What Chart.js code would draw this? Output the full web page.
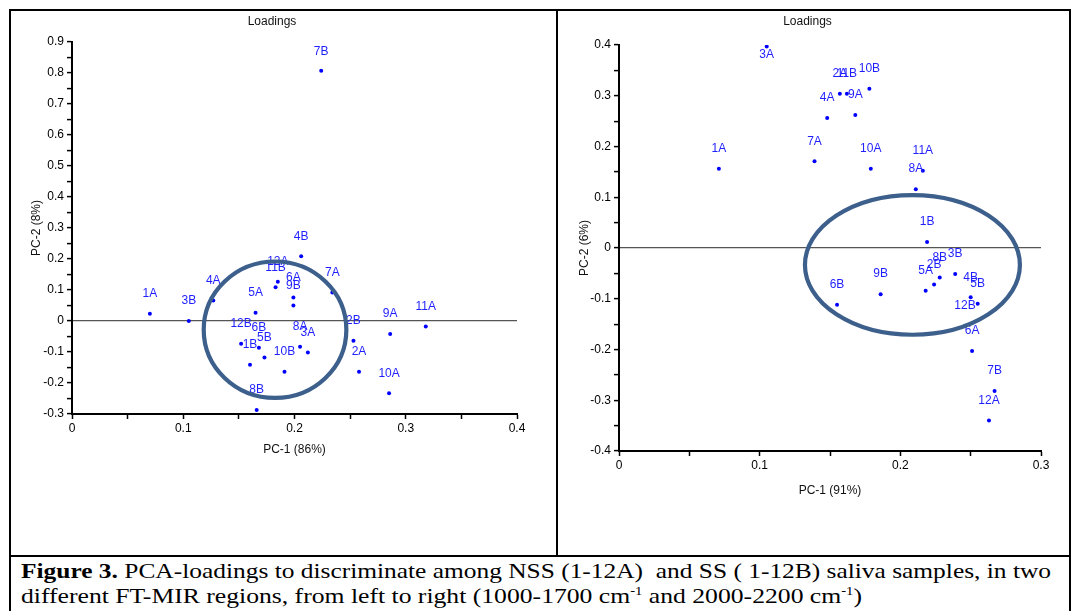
<!DOCTYPE html>
<html>
<head>
<meta charset="utf-8">
<script src="https://cdn.jsdelivr.net/npm/chart.js@4/dist/chart.umd.min.js"></script>
<style>
    body { margin: 0; background: #fff; }
    #page { position: relative; width: 1072px; height: 611px; overflow: hidden; }
    .line { position: absolute; background: #000; }
    canvas { position: absolute; }
    .caption {
        position: absolute; left: 21px; white-space: nowrap;
        font-family: "Liberation Serif", "Times New Roman", serif;
        font-size: 21px; line-height: 25px; color: #000;
        transform-origin: 0 50%;
    }
    #linea1 { top: 559px; }
    #linea2 { top: 584px; }
    .caption sup { font-size: 12px; line-height: 0; }
</style>
</head>
<body>
<div id="page">
    <div class="line" style="left:9px; top:9px; width:1062px; height:2px;"></div>
    <div class="line" style="left:9px; top:9px; width:2px; height:602px;"></div>
    <div class="line" style="left:1069px; top:9px; width:2px; height:602px;"></div>
    <div class="line" style="left:556px; top:9px; width:2px; height:547px;"></div>
    <div class="line" style="left:9px; top:555px; width:1062px; height:2px;"></div>

    <canvas id="izquierda" width="546" height="544" style="left:11px; top:11px;"></canvas>
    <canvas id="derecha" width="511" height="544" style="left:558px; top:11px;"></canvas>

    <div class="caption" id="linea1"><b>Figure 3.</b> PCA-loadings to discriminate among NSS (1-12A)&nbsp; and SS ( 1-12B) saliva samples, in two</div>
    <div class="caption" id="linea2">different FT-MIR regions, from left to right (1000-1700 cm<sup>-1</sup> and 2000-2200 cm<sup>-1</sup>)</div>
</div>

<script>

// =========================
// DATOS: 1000-1700 cm-1
// =========================

const muestrasIzq = [
    "1A", "2A", "3A", "4A", "5A", "6A", "7A", "8A", "9A", "10A", "11A", "12A",
    "1B", "2B", "3B", "4B", "5B", "6B", "7B", "8B", "9B", "10B", "11B", "12B"
];

const pc1Izq = [
    0.070, 0.258, 0.212, 0.127, 0.165, 0.199, 0.234, 0.205, 0.286, 0.285, 0.318, 0.185,
    0.160, 0.253, 0.105, 0.206, 0.173, 0.168, 0.224, 0.166, 0.199, 0.191, 0.183, 0.152
];

const pc2Izq = [
    0.023, -0.164, -0.102, 0.066, 0.027, 0.076, 0.092, -0.083, -0.042, -0.233, -0.018, 0.127,
    -0.141, -0.064, 0.000, 0.209, -0.118, -0.086, 0.807, -0.287, 0.050, -0.164, 0.109, -0.073
];

// =========================
// DATOS: 2000-2200 cm-1
// =========================

const muestrasDer = [
    "1A", "2A", "3A", "4A", "5A", "6A", "7A", "8A", "9A", "10A", "11A", "12A",
    "1B", "2B", "3B", "4B", "5B", "6B", "7B", "8B", "9B", "10B", "11B", "12B"
];

const pc1Der = [
    0.071, 0.157, 0.105, 0.148, 0.218, 0.251, 0.139, 0.211, 0.168, 0.179, 0.216, 0.263,
    0.219, 0.224, 0.239, 0.250, 0.255, 0.155, 0.267, 0.228, 0.186, 0.178, 0.162, 0.246
];

const pc2Der = [
    0.156, 0.304, 0.397, 0.256, -0.084, -0.203, 0.171, 0.116, 0.262, 0.156, 0.152, -0.340,
    0.012, -0.072, -0.051, -0.097, -0.110, -0.112, -0.282, -0.058, -0.091, 0.314, 0.304, -0.153
];

// círculos que agrupan las muestras (centro y radios en unidades de los ejes)
const circuloIzq = { cx: 0.1825, cy: -0.028, rx: 0.0641, ry: 0.220 };
const circuloDer = { cx: 0.2086, cy: -0.0333, rx: 0.0764, ry: 0.1376 };


// el pie de figura del original es más ancho que Liberation Serif
function ajustarAncho(id, ancho) {
    const el = document.getElementById(id);
    const w = el.getBoundingClientRect().width;
    el.style.transform = "scaleX(" + (ancho / w) + ")";
}
ajustarAncho("linea1", 1030);
ajustarAncho("linea2", 841);


const fuente = "'Liberation Sans', Arial, sans-serif";
Chart.defaults.font.family = fuente;
Chart.defaults.font.size = 12;
Chart.defaults.color = "#000";


// etiquetas de cada punto y círculo de agrupación
const etiquetasYCirculo = {

    id: "etiquetasYCirculo",

    afterDatasetsDraw(chart, args, opts) {

        const ctx = chart.ctx;
        const area = chart.chartArea;
        const meta = chart.getDatasetMeta(0);
        const nombres = chart.data.datasets[0].nombres;

        ctx.save();
        ctx.font = "12px " + fuente;
        ctx.fillStyle = "#1f1fff";
        ctx.textAlign = "center";
        ctx.textBaseline = "middle";

        meta.data.forEach((p, i) => {
            const y = Math.max(p.y - 20, area.top + 10);
            ctx.fillText(nombres[i], p.x, y);
        });

        const c = opts.circulo;
        const sx = chart.scales.x;
        const sy = chart.scales.y;
        const px = sx.getPixelForValue(c.cx);
        const py = sy.getPixelForValue(c.cy);
        const rx = Math.abs(sx.getPixelForValue(c.cx + c.rx) - px);
        const ry = Math.abs(sy.getPixelForValue(c.cy + c.ry) - py);

        ctx.beginPath();
        ctx.ellipse(px, py, rx, ry, 0, 0, Math.PI * 2);
        ctx.strokeStyle = "#3d5f8c";
        ctx.lineWidth = 4.2;
        ctx.stroke();
        ctx.restore();
    }
};


function etiquetaTick(value) {
    const d = value * 10;
    if (Math.abs(d - Math.round(d)) > 1e-6) return "";
    return String(Math.round(d) / 10);
}


function crearGrafico(id, nombres, pc1, pc2, ejes, circulo) {

    return new Chart(document.getElementById(id), {

        type: "scatter",

        data: {
            datasets: [{
                data: pc1.map((x, i) => ({ x: x, y: pc2[i] })),
                nombres: nombres,
                pointRadius: 2,
                pointHoverRadius: 2,
                pointBackgroundColor: "#0000ff",
                pointBorderWidth: 0
            }]
        },

        plugins: [etiquetasYCirculo],

        options: {

            responsive: false,
            animation: false,

            layout: {
                padding: ejes.padding
            },

            plugins: {
                legend: { display: false },
                tooltip: { enabled: false },
                title: {
                    display: true,
                    text: "Loadings",
                    color: "#111",
                    font: { size: 12, weight: "normal" },
                    padding: ejes.tituloPadding
                },
                etiquetasYCirculo: { circulo: circulo }
            },

            scales: {

                x: {
                    type: "linear",
                    min: ejes.xMin,
                    max: ejes.xMax,
                    afterFit: s => { s.height = ejes.altoX; },
                    ticks: {
                        stepSize: 0.05,
                        autoSkip: false,
                        maxRotation: 0,
                        padding: 2,
                        callback: etiquetaTick
                    },
                    grid: {
                        drawOnChartArea: false,
                        tickLength: 5,
                        tickColor: "#000",
                        tickWidth: 1.5
                    },
                    border: { color: "#000", width: 2 },
                    title: {
                        display: true,
                        text: ejes.tituloX,
                        color: "#111",
                        padding: { top: 4, bottom: 0 }
                    }
                },

                y: {
                    type: "linear",
                    min: ejes.yMin,
                    max: ejes.yMax,
                    afterFit: s => { s.width = 45; },
                    ticks: {
                        stepSize: 0.05,
                        autoSkip: false,
                        padding: 3,
                        callback: etiquetaTick
                    },
                    grid: {
                        drawOnChartArea: true,
                        color: c => Math.abs(c.tick.value) < 1e-9 ? "#555" : "rgba(0,0,0,0)",
                        lineWidth: 1.2,
                        tickLength: 5,
                        tickColor: "#000",
                        tickWidth: 1.5
                    },
                    border: { color: "#000", width: 2 },
                    title: {
                        display: true,
                        text: ejes.tituloY,
                        color: "#111",
                        padding: { top: ejes.tituloYPadding, bottom: 0 }
                    }
                }
            }
        }
    });
}


crearGrafico("izquierda", muestrasIzq, pc1Izq, pc2Izq, {
    xMin: 0, xMax: 0.4, yMin: -0.3, yMax: 0.9,
    tituloX: "PC-1 (86%)", tituloY: "PC-2 (8%)",
    padding: { left: 16, right: 40, top: 0, bottom: 97.8 },
    tituloPadding: { top: 3.8, bottom: 12.8 },
    tituloYPadding: 2.8,
    altoX: 43.2
}, circuloIzq);

crearGrafico("derecha", muestrasDer, pc1Der, pc2Der, {
    xMin: 0, xMax: 0.3, yMin: -0.4, yMax: 0.4,
    tituloX: "PC-1 (91%)", tituloY: "PC-2 (6%)",
    padding: { left: 16, right: 28, top: 0, bottom: 56.8 },
    tituloPadding: { top: 3.8, bottom: 15.8 },
    tituloYPadding: 3.8,
    altoX: 47.2
}, circuloDer);

</script>
</body>
</html>
